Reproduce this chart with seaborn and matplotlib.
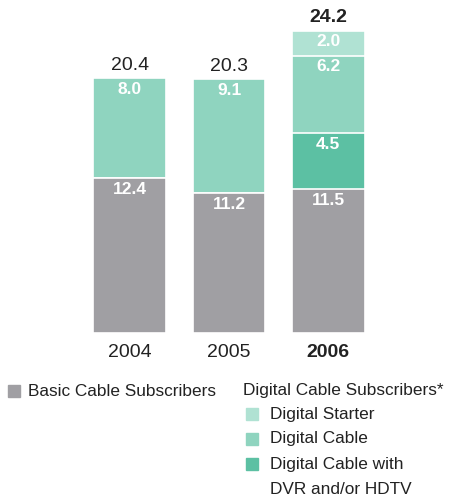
import numpy as np
import pandas as pd
import matplotlib.pyplot as plt
import seaborn as sns
from matplotlib.patches import Rectangle

# 数据
years = ['2004', '2005', '2006']
basic = [12.4, 11.2, 11.5]
dvr_hdtv = [0.0, 0.0, 4.5]
digital_cable = [8.0, 9.1, 6.2]
digital_starter = [0.0, 0.0, 2.0]
totals = [20.4, 20.3, 24.2]

c_basic = '#a09fa3'
c_dvr = '#5cc0a3'
c_cable = '#8fd4bf'
c_starter = '#b0e2d3'

sns.set_style('white')
plt.rcParams['font.family'] = ['Liberation Sans', 'DejaVu Sans']

df = pd.DataFrame({'year': years, 'basic': basic, 'dvr': dvr_hdtv,
                   'cable': digital_cable, 'starter': digital_starter})
df['l1'] = df['basic']
df['l2'] = df['l1'] + df['dvr']
df['l3'] = df['l2'] + df['cable']
df['l4'] = df['l3'] + df['starter']

fig = plt.figure(figsize=(4.51, 4.96), dpi=100)
ax = fig.add_axes([80 / 451, 163 / 496, 300 / 451, 325 / 496])

# 从上往下叠画累积值
for col, color in [('l4', c_starter), ('l3', c_cable), ('l2', c_dvr), ('l1', c_basic)]:
    sns.barplot(data=df, x='year', y=col, color=color, width=0.73, saturation=1,
                edgecolor='white', linewidth=1.2, ax=ax, order=years)

ax.set_xlim(-0.5, 2.52)
ax.set_ylim(0, 26)
ax.axis('off')

txt = '#222222'

# 段内数值
segs = [('basic', 'l1'), ('dvr', 'l2'), ('cable', 'l3'), ('starter', 'l4')]
for i in range(len(years)):
    for val_col, top_col in segs:
        v = df.loc[i, val_col]
        if v > 0:
            ax.text(i, df.loc[i, top_col] - 0.9, f'{v:.1f}', ha='center', va='center',
                    color='white', fontsize=12.5, fontweight='bold')
    bold = 'bold' if i == 2 else 'normal'
    ax.text(i, df.loc[i, 'l4'] + 1.0, f'{totals[i]:.1f}', ha='center', va='center',
            color=txt, fontsize=14, fontweight=bold)
    ax.text(i, -1.55, years[i], ha='center', va='center', color=txt,
            fontsize=14, fontweight=bold)

# 图例
def fy(py):
    return 1 - py / 496

def fx(px):
    return px / 451

fs = 12.4
fig.patches.append(Rectangle((fx(8), fy(397)), 12 / 451, 12 / 496, color=c_basic,
                             transform=fig.transFigure))
fig.text(fx(28), fy(391), 'Basic Cable Subscribers', va='center', ha='left',
         fontsize=fs, color=txt)
fig.text(fx(243), fy(391), 'Digital Cable Subscribers*', va='center', ha='left',
         fontsize=fs, color=txt)
items = [('Digital Starter', c_starter, 414), ('Digital Cable', c_cable, 439),
         ('Digital Cable with', c_dvr, 464)]
for label, color, y in items:
    fig.patches.append(Rectangle((fx(246), fy(y + 6)), 12 / 451, 12 / 496, color=color,
                                 transform=fig.transFigure))
    fig.text(fx(270), fy(y), label, va='center', ha='left', fontsize=fs, color=txt)
fig.text(fx(270), fy(489), 'DVR and/or HDTV', va='center', ha='left', fontsize=fs,
         color=txt)

fig.savefig('out.png', dpi=100)
